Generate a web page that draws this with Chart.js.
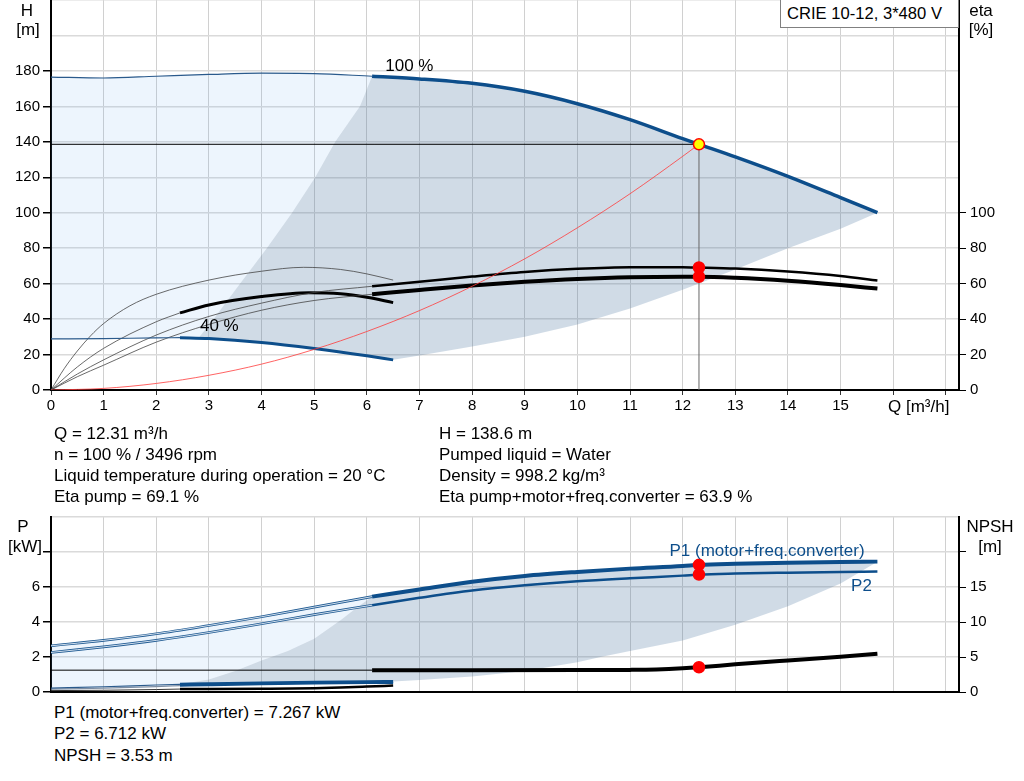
<!DOCTYPE html>
<html>
<head>
<meta charset="utf-8">
<script src="https://cdn.jsdelivr.net/npm/chart.js@4.4.1/dist/chart.umd.min.js"></script>
<style>
  body { margin: 0; background: #fff; }
  #wrap { position: relative; width: 1024px; height: 781px; font-family: "Liberation Sans", Arial, sans-serif; font-size: 17px; color: #000; }
  canvas { position: absolute; left: 0; }
  .t { position: absolute; white-space: nowrap; line-height: 18px; }
  #model { position: absolute; left: 780px; top: -1px; width: 171px; height: 27px; border: 1px solid #808080; background: #fff; padding-left: 6px; line-height: 27px; white-space: nowrap; font-size: 16.6px; }
</style>
</head>
<body>
<div id="wrap">
  <canvas id="curves" width="1024" height="425" style="top:0"></canvas>
  <canvas id="power" width="1024" height="200" style="top:500px"></canvas>
  <div id="model">CRIE 10-12, 3*480 V</div>

  <div class="t" style="left:54px;top:425px">Q = 12.31 m³/h</div>
  <div class="t" style="left:54px;top:446px">n = 100 % / 3496 rpm</div>
  <div class="t" style="left:54px;top:467px">Liquid temperature during operation = 20 °C</div>
  <div class="t" style="left:54px;top:488px">Eta pump = 69.1 %</div>
  <div class="t" style="left:439px;top:425px">H = 138.6 m</div>
  <div class="t" style="left:439px;top:446px">Pumped liquid = Water</div>
  <div class="t" style="left:439px;top:467px">Density = 998.2 kg/m³</div>
  <div class="t" style="left:439px;top:488px">Eta pump+motor+freq.converter = 63.9 %</div>

  <div class="t" style="left:54px;top:704px">P1 (motor+freq.converter) = 7.267 kW</div>
  <div class="t" style="left:54px;top:725px">P2 = 6.712 kW</div>
  <div class="t" style="left:54px;top:747px">NPSH = 3.53 m</div>
</div>
<script>
// ---- data (Q in m3/h) ----

// head at 100 % speed
const q100Thin = [0, 1, 2, 3, 4, 5, 6.1];
const h100Thin = [176.5, 176, 177, 178, 178.7, 178.5, 177];
const q100 = [6.1, 7, 8, 9, 10, 11, 12, 12.31, 13, 14, 15, 15.7];
const h100 = [177, 175.5, 173, 168.5, 161.5, 152.5, 141.8, 138.6, 131.5, 120.5, 108.5, 100];

// head at 40 % speed
const q40Thin = [0, 1, 2, 2.45];
const h40Thin = [28.8, 29, 29.4, 29.5];
const q40 = [2.45, 3, 4, 5, 6, 6.5];
const h40 = [29.5, 29, 26.8, 23.4, 19.3, 17];

// operating range limits
const qMinEdge = [2.8, 3.09, 3.59, 4.1, 4.58, 5.02, 5.4, 5.87, 6.1];
const hMinEdge = [29.2, 40, 60, 80, 100, 120, 140, 160, 177];
const qMaxEdge = [6.5, 7, 8, 9, 10, 11, 12, 13, 14, 15, 15.7];
const hMaxEdge = [17, 19.5, 24.5, 30, 37, 46, 56.5, 68, 80, 91, 100];

// efficiencies [%]
const qEtaThin = [0, 0.5, 1, 2, 3, 4, 5, 6.1];
const etaPumpThin = [0, 9, 17, 31, 41.5, 49, 55, 58.5];
const etaTotThin = [0, 7.5, 14, 27, 37, 45, 50.5, 54];
const qEta = [6.1, 7, 8, 9, 10, 11, 12, 12.31, 13, 14, 15, 15.7];
const etaPump = [58.5, 61.1, 64, 66.6, 68.4, 69.3, 69.3, 69.1, 68.5, 66.8, 64.3, 61.8];
const etaTot = [54, 56.4, 58.9, 61, 62.6, 63.6, 63.9, 63.9, 63.3, 61.6, 59.2, 57.2];

const q40EtaPump = [0, 0.25, 0.5, 0.75, 1, 1.5, 2, 3, 4, 4.8, 5.5, 6, 6.5];
const eta40Pump = [0, 12, 22, 30.5, 37.5, 47.5, 54, 62, 67, 69.2, 68, 65.5, 62];
const q40EtaTotThin = [0, 0.5, 1, 2, 2.45];
const eta40TotThin = [0, 13, 23.5, 38.5, 43.5];
const q40EtaTot = [2.45, 3, 4, 4.9, 5.5, 6, 6.5];
const eta40Tot = [43.5, 48, 52.7, 54.9, 54.3, 52.3, 49.3];

// system curve
const qSys = [0, 1, 2, 3, 4, 5, 6, 7, 8, 9, 10, 11, 12, 12.31];
const hSys = [0, 0.9, 3.7, 8.3, 14.6, 22.9, 33, 44.8, 58.5, 74, 91.5, 110.7, 131.8, 138.6];

// duty point
const dutyQ = 12.31;
const dutyH = 138.6;
const dutyEtaPump = 69.1;
const dutyEtaTot = 63.9;
const dutyP1 = 7.267;
const dutyP2 = 6.712;
const dutyNpsh = 3.53;

// power [kW]
const qPThin = [0, 1, 2, 3, 4, 5, 6.1];
const p1Thin = [2.64, 2.95, 3.33, 3.8, 4.3, 4.85, 5.45];
const p2Thin = [2.26, 2.58, 2.95, 3.4, 3.9, 4.42, 4.96];
const qP = [6.1, 7, 8, 9, 10, 11, 12, 12.31, 13, 14, 15, 15.7];
const p1 = [5.45, 5.86, 6.3, 6.63, 6.86, 7.05, 7.2, 7.267, 7.33, 7.39, 7.43, 7.45];
const p2 = [4.96, 5.38, 5.8, 6.1, 6.33, 6.5, 6.65, 6.712, 6.77, 6.82, 6.86, 6.88];

const q40PThin = [0, 1, 2, 2.45];
const p1_40Thin = [0.22, 0.3, 0.4, 0.44];
const p2_40Thin = [0.16, 0.22, 0.31, 0.36];
const q40P = [2.45, 3, 4, 5, 6, 6.5];
const p1_40 = [0.44, 0.47, 0.52, 0.56, 0.59, 0.6];
const p2_40 = [0.36, 0.39, 0.44, 0.48, 0.51, 0.52];

const qPMinEdge = [2.45, 3, 3.5, 4, 4.5, 5, 5.5, 5.8, 6.1];
const pMinEdge = [0.44, 0.72, 1.2, 1.8, 2.35, 3.05, 4.1, 4.8, 5.45];
const qPMaxEdge = [6.5, 7, 8, 9, 10, 10.44, 11, 12, 13, 14, 15, 15.7];
const pMaxEdge = [0.6, 0.68, 0.88, 1.2, 1.7, 2.0, 2.35, 2.95, 3.85, 4.9, 6.2, 7.45];

// NPSH [m]
const qNpshThin = [0, 6.1];
const npshThin = [3.12, 3.12];
const qNpsh = [6.1, 8, 10, 11, 11.5, 12, 12.31, 13, 14, 15, 15.7];
const npsh = [3.12, 3.12, 3.13, 3.16, 3.22, 3.38, 3.53, 3.95, 4.5, 5.03, 5.45];
const q40NpshThin = [0, 1, 2, 2.45];
const npsh40Thin = [0.2, 0.25, 0.35, 0.42];
const q40Npsh = [2.45, 3, 4, 5, 5.5, 6, 6.5];
const npsh40 = [0.42, 0.43, 0.47, 0.55, 0.65, 0.78, 0.92];

// ---- helpers ----
const FONT = { family: '"Liberation Sans", Arial, sans-serif', size: 15 };
const BLUE = '#0d4e8b';

function pts(xs, ys) {
  return xs.map((x, i) => ({ x: x, y: ys[i] }));
}
function rev(xs, ys) {
  return pts(xs, ys).reverse();
}
function curve(xs, ys, color, width, extra) {
  return Object.assign({
    data: pts(xs, ys), borderColor: color, borderWidth: width,
    pointRadius: 0, fill: false, cubicInterpolationMode: 'monotone', order: 5
  }, extra || {});
}
function area(points, color, order) {
  return { data: points, borderWidth: 0, backgroundColor: color, pointRadius: 0, fill: 'shape', tension: 0, order: order };
}
function marker(x, y, axis, bg, border) {
  return {
    data: [{ x: x, y: y }], yAxisID: axis, showLine: false,
    pointRadius: 5.5, pointBackgroundColor: bg, pointBorderColor: border, pointBorderWidth: 1.5, order: 0
  };
}

// writes axis titles and curve labels
const labelPlugin = {
  id: 'labels',
  afterDraw(chart, args, opts) {
    const ctx = chart.ctx;
    ctx.save();
    ctx.font = '17px "Liberation Sans", Arial, sans-serif';
    ctx.textBaseline = 'middle';
    opts.items.forEach(t => {
      let x = t.px, y = t.py;
      if (t.q !== undefined) {
        x = chart.scales.x.getPixelForValue(t.q);
        y = chart.scales[t.axis || 'y'].getPixelForValue(t.v);
      }
      ctx.fillStyle = t.color || '#000';
      ctx.textAlign = t.align || 'center';
      ctx.fillText(t.text, x, y);
    });
    ctx.restore();
  }
};

function hideAbove(limit) {
  return c => (c.tick && c.tick.value > limit) ? 'rgba(0,0,0,0)' : '#000';
}
// fixed box sizes so both plots line up, no extra padding for labels
function fixSize(w, h) {
  return s => {
    if (w !== null) s.width = w;
    if (h !== null) s.height = h;
    s.paddingTop = 0; s.paddingBottom = 0; s.paddingLeft = 0; s.paddingRight = 0;
  };
}

function xScale(height, showLabels) {
  return {
    type: 'linear', min: 0, max: 17.25,
    ticks: {
      display: showLabels, stepSize: 1, includeBounds: false, autoSkip: false, maxRotation: 0,
      color: '#000', font: FONT, padding: 2,
      callback: v => v <= 15 ? v : ''
    },
    grid: { color: '#d0d0d0', lineWidth: 1, drawTicks: showLabels, tickLength: 5, tickColor: '#333' },
    border: { color: '#000', width: 2 },
    afterFit: fixSize(null, height)
  };
}

// ---- head / efficiency chart ----
const darkTop = pts(qMinEdge, hMinEdge)
  .concat(pts(q100, h100))
  .concat(rev(qMaxEdge, hMaxEdge))
  .concat(rev(q40, h40).filter(p => p.x >= 2.8));
const lightTop = pts(q100Thin, h100Thin)
  .concat(rev(qMinEdge, hMinEdge))
  .concat(rev(q40, h40).filter(p => p.x < 2.8))
  .concat(rev(q40Thin, h40Thin));

const ETA = { yAxisID: 'y2' };

new Chart(document.getElementById('curves'), {
  type: 'line',
  data: {
    datasets: [
      area(lightTop, 'rgba(105,172,238,0.12)', 100),
      area(darkTop, 'rgba(67,111,155,0.25)', 99),
      curve([0, dutyQ], [dutyH, dutyH], '#000', 1, { order: 50, cubicInterpolationMode: 'default' }),
      curve([dutyQ, dutyQ], [0, dutyH], '#666', 1, { order: 50, cubicInterpolationMode: 'default' }),
      curve(qSys, hSys, '#ff3b3b', 0.8),
      curve(q100Thin, h100Thin, '#2a5a8c', 1.2),
      curve(q100, h100, BLUE, 3.5),
      curve(q40Thin, h40Thin, '#2a5a8c', 1.2),
      curve(q40, h40, BLUE, 3),
      curve(qEtaThin, etaPumpThin, '#444', 0.8, ETA),
      curve(qEtaThin, etaTotThin, '#444', 0.8, ETA),
      curve(qEta, etaPump, '#000', 2.5, ETA),
      curve(qEta, etaTot, '#000', 4, ETA),
      curve(q40EtaPump, eta40Pump, '#444', 0.8, ETA),
      curve(q40EtaTotThin, eta40TotThin, '#444', 0.8, ETA),
      curve(q40EtaTot, eta40Tot, '#000', 3, ETA),
      marker(dutyQ, dutyEtaPump, 'y2', '#ff0000', '#ff0000'),
      marker(dutyQ, dutyEtaTot, 'y2', '#ff0000', '#ff0000'),
      marker(dutyQ, dutyH, 'y', '#ffff00', '#ff0000')
    ]
  },
  options: {
    responsive: false, animation: false, events: [],
    layout: { padding: 0, autoPadding: false },
    plugins: {
      legend: { display: false }, tooltip: { enabled: false },
      labels: {
        items: [
          { text: 'H', px: 27, py: 11 },
          { text: '[m]', px: 28, py: 30 },
          { text: 'eta', px: 981, py: 11 },
          { text: '[%]', px: 981, py: 30 },
          { text: 'Q [m³/h]', px: 888, py: 407, align: 'left' },
          { text: '100 %', q: 6.35, v: 182.5, align: 'left' },
          { text: '40 %', q: 2.83, v: 36, align: 'left' }
        ]
      }
    },
    scales: {
      x: xScale(35, true),
      y: {
        min: 0, max: 220,
        ticks: { stepSize: 20, autoSkip: false, color: '#000', font: FONT, padding: 3, callback: v => v <= 180 ? v : '' },
        grid: { color: '#dadada', lineWidth: 1.5, tickLength: 8, tickColor: hideAbove(180) },
        border: { color: '#000', width: 2 },
        afterFit: fixSize(51, null)
      },
      y2: {
        position: 'right', min: 0, max: 220,
        afterBuildTicks: s => { s.ticks = s.ticks.filter(t => t.value <= 100); },
        ticks: { stepSize: 20, autoSkip: false, color: '#000', font: FONT, padding: 4 },
        grid: { drawOnChartArea: false, tickLength: 7, tickColor: '#000' },
        border: { color: '#000', width: 2 },
        afterFit: fixSize(65, null)
      }
    }
  },
  plugins: [labelPlugin]
});

// ---- power / NPSH chart ----
const darkBottom = pts(qPMinEdge, pMinEdge)
  .concat(pts(qP, p1))
  .concat(rev(qPMaxEdge, pMaxEdge))
  .concat(rev(q40P, p1_40));
const lightBottom = pts(qPThin, p1Thin)
  .concat(rev(qPMinEdge, pMinEdge))
  .concat(rev(q40PThin, p1_40Thin));

// the thin power extensions are drawn as a double line (dark edge, pale core)
const CORE = { order: 4 };

new Chart(document.getElementById('power'), {
  type: 'line',
  data: {
    datasets: [
      area(lightBottom, 'rgba(105,172,238,0.12)', 100),
      area(darkBottom, 'rgba(67,111,155,0.25)', 99),
      curve(qPThin, p1Thin, '#1f5a92', 2.6),
      curve(qPThin, p1Thin, '#e4edf7', 0.9, CORE),
      curve(qPThin, p2Thin, '#1f5a92', 2.6),
      curve(qPThin, p2Thin, '#e4edf7', 0.9, CORE),
      curve(qP, p1, BLUE, 4),
      curve(qP, p2, BLUE, 2.5),
      curve(q40PThin, p1_40Thin, '#2a5a8c', 1.2),
      curve(q40PThin, p2_40Thin, '#7d8ea3', 1.2),
      curve(q40P, p1_40, BLUE, 3),
      curve(q40P, p2_40, BLUE, 2),
      curve(qNpshThin, npshThin, '#000', 1, { yAxisID: 'y2', cubicInterpolationMode: 'default' }),
      curve(qNpsh, npsh, '#000', 4, { yAxisID: 'y2' }),
      curve(q40NpshThin, npsh40Thin, '#333', 1, { yAxisID: 'y2' }),
      curve(q40Npsh, npsh40, '#000', 2.5, { yAxisID: 'y2' }),
      marker(dutyQ, dutyP1, 'y', '#ff0000', '#ff0000'),
      marker(dutyQ, dutyP2, 'y', '#ff0000', '#ff0000'),
      marker(dutyQ, dutyNpsh, 'y2', '#ff0000', '#ff0000')
    ]
  },
  options: {
    responsive: false, animation: false, events: [],
    layout: { padding: { top: 17, left: 0, right: 0, bottom: 0 }, autoPadding: false },
    plugins: {
      legend: { display: false }, tooltip: { enabled: false },
      labels: {
        items: [
          { text: 'P', px: 23, py: 27 },
          { text: '[kW]', px: 25, py: 47 },
          { text: 'NPSH', px: 990, py: 27 },
          { text: '[m]', px: 990, py: 47 },
          { text: 'P1 (motor+freq.converter)', q: 11.75, v: 8.02, align: 'left', color: BLUE },
          { text: 'P2', q: 15.2, v: 6.06, align: 'left', color: BLUE }
        ]
      }
    },
    scales: {
      x: xScale(8, false),
      y: {
        min: 0, max: 10,
        ticks: { stepSize: 2, autoSkip: false, color: '#000', font: FONT, padding: 3, callback: v => v <= 6 ? v : '' },
        grid: { color: '#dadada', lineWidth: 1.5, tickLength: 8, tickColor: hideAbove(8) },
        border: { color: '#000', width: 2 },
        afterFit: fixSize(51, null)
      },
      y2: {
        position: 'right', min: 0, max: 25,
        ticks: { stepSize: 5, autoSkip: false, color: '#000', font: FONT, padding: 4, callback: v => v <= 15 ? v : '' },
        grid: { drawOnChartArea: false, tickLength: 7, tickColor: hideAbove(20) },
        border: { color: '#000', width: 2 },
        afterFit: fixSize(65, null)
      }
    }
  },
  plugins: [labelPlugin]
});
</script>
</body>
</html>
